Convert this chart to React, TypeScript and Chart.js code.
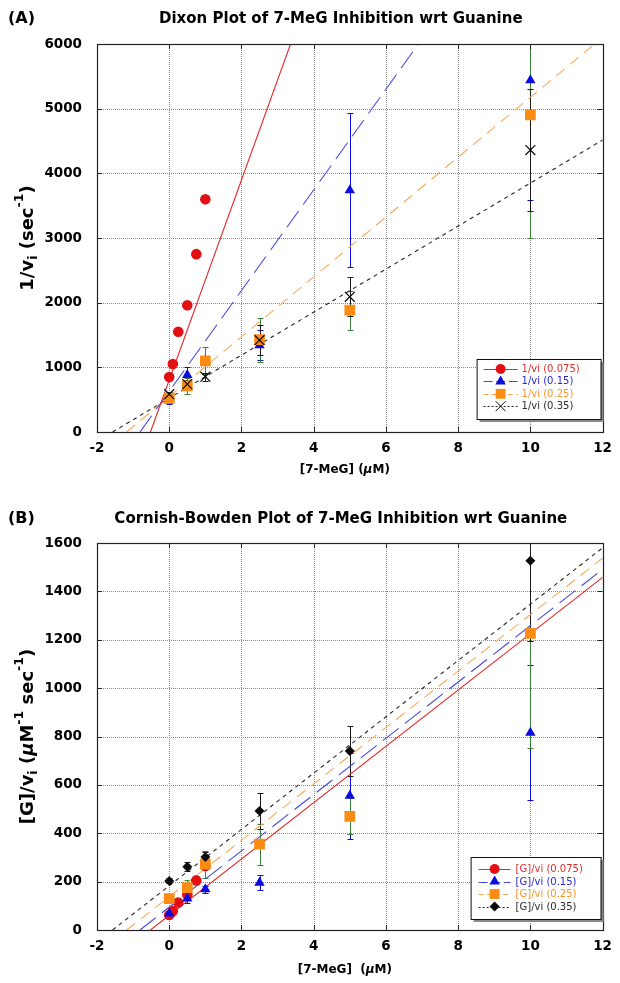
import React, { useEffect, useRef } from 'react';
import { Chart, registerables } from 'chart.js';

Chart.register(...registerables);

const FONT = "'DejaVu Sans', 'Liberation Sans', Arial, sans-serif";

// ---- shared x axis ----
const xMin = -2;
const xMax = 12;
const xStep = 2;

// ---- concentrations [7-MeG] (uM) ----
const concRedX = [0, 0.1, 0.25, 0.5, 0.75, 1];
const concX = [0, 0.5, 1, 2.5, 5, 10];

// ---- (A) Dixon plot: 1/vi ----
const dixonYMax = 6000;
const dixonYStep = 1000;
const dixonRed = [850, 1050, 1550, 1960, 2750, 3600];
const dixonBlue = [490, 880, 1100, 1340, 3740, 5440];
const dixonBlueErr = [60, 130, 60, 230, 1190, 1860];
const dixonOrange = [520, 715, 1100, 1430, 1885, 4905];
const dixonOrangeErr = [70, 120, 210, 340, 300, 1900];
const dixonBlack = [585, 740, 855, 1420, 2090, 4360];
const dixonBlackErr = [40, 60, 60, 230, 300, 950];
// fitted lines (end points)
const dixonFitRedX = [-0.52, 3.36];
const dixonFitRedY = [0, 6000];
const dixonFitBlueX = [-0.81, 6.9];
const dixonFitBlueY = [0, 6000];
const dixonFitOrangeX = [-1.18, 11.78];
const dixonFitOrangeY = [0, 6000];
const dixonFitBlackX = [-1.57, 12];
const dixonFitBlackY = [0, 4515];
const dixonLabels = ['1/vi (0.075)', '1/vi (0.15)', '1/vi (0.25)', '1/vi (0.35)'];

// ---- (B) Cornish-Bowden plot: [G]/vi ----
const cbYMax = 1600;
const cbYStep = 200;
const cbRed = [62, 78, 114, 147, 205, 265];
const cbBlue = [68, 130, 168, 195, 555, 815];
const cbBlueErr = [8, 20, 15, 31, 178, 279];
const cbOrange = [130, 175, 272, 355, 470, 1226];
const cbOrangeErr = [18, 30, 55, 85, 75, 475];
const cbBlack = [203, 262, 302, 492, 740, 1527];
const cbBlackErr = [10, 20, 20, 75, 105, 332];
const cbFitRedX = [-0.52, 12];
const cbFitRedY = [0, 1458];
const cbFitBlueX = [-0.81, 12];
const cbFitBlueY = [0, 1491];
const cbFitOrangeX = [-1.18, 12];
const cbFitOrangeY = [0, 1537];
const cbFitBlackX = [-1.57, 12];
const cbFitBlackY = [0, 1580];
const cbLabels = ['[G]/vi (0.075)', '[G]/vi (0.15)', '[G]/vi (0.25)', '[G]/vi (0.35)'];

// ---- styles ----
const RED = 'rgb(226,16,20)';
const BLUE = 'rgb(10,10,225)';
const ORANGE = 'rgb(250,140,20)';
const BLACK = 'rgb(10,10,10)';
const GREEN = 'rgb(60,130,60)';

type Part = { t: string; size: number; dy?: number; italic?: boolean; bold?: boolean };

function drawRich(ctx: CanvasRenderingContext2D, parts: Part[], cx: number, cy: number, rotate: boolean) {
  ctx.save();
  ctx.translate(cx, cy);
  if (rotate) ctx.rotate(-Math.PI / 2);
  ctx.textBaseline = 'middle';
  ctx.textAlign = 'left';
  ctx.fillStyle = '#000';
  const fontOf = (p: Part) => `${p.italic ? 'italic ' : ''}${p.bold === false ? '' : 'bold '}${p.size}px ${FONT}`;
  let total = 0;
  parts.forEach((p) => {
    ctx.font = fontOf(p);
    total += ctx.measureText(p.t).width;
  });
  let x = -total / 2;
  parts.forEach((p) => {
    ctx.font = fontOf(p);
    ctx.fillText(p.t, x, p.dy || 0);
    x += ctx.measureText(p.t).width;
  });
  ctx.restore();
}

function drawShape(ctx: CanvasRenderingContext2D, style: string, x: number, y: number, r: number, color: string) {
  ctx.save();
  ctx.setLineDash([]);
  ctx.fillStyle = color;
  ctx.strokeStyle = color;
  ctx.beginPath();
  if (style === 'circle') {
    ctx.arc(x, y, r, 0, Math.PI * 2);
    ctx.fill();
  } else if (style === 'triangle') {
    ctx.moveTo(x, y - r);
    ctx.lineTo(x + r * 0.866, y + r * 0.5);
    ctx.lineTo(x - r * 0.866, y + r * 0.5);
    ctx.closePath();
    ctx.fill();
  } else if (style === 'rect') {
    const s = r * 0.707;
    ctx.rect(x - s, y - s, 2 * s, 2 * s);
    ctx.fill();
  } else if (style === 'rectRot') {
    ctx.moveTo(x, y - r);
    ctx.lineTo(x + r, y);
    ctx.lineTo(x, y + r);
    ctx.lineTo(x - r, y);
    ctx.closePath();
    ctx.fill();
  } else if (style === 'crossRot') {
    const d = r * 0.707;
    ctx.lineWidth = 1;
    ctx.moveTo(x - d, y - d);
    ctx.lineTo(x + d, y + d);
    ctx.moveTo(x + d, y - d);
    ctx.lineTo(x - d, y + d);
    ctx.stroke();
  }
  ctx.restore();
}

type Series = {
  label: string;
  xs: number[];
  ys: number[];
  errs?: number[];
  color: string;
  lineColor: string;
  textColor: string;
  errColor: string;
  pointStyle: string;
  radius: number;
  legendRadius: number;
  dash: number[];
  fitX: number[];
  fitY: number[];
};

type PanelCfg = {
  series: Series[];
  yMax: number;
  yStep: number;
  height: number;
  padTop: number;
  xAxisH: number;
  panel: string;
  title: string;
  titleY: number;
  yTitle: Part[];
  xTitle: Part[];
  xTitleY: number;
  legend: { left: number; top: number; w: number; h: number; rowY: number; rowH: number; x0: number; x1: number; tx: number };
};

function buildChart(canvas: HTMLCanvasElement, p: PanelCfg) {
  const datasets: any[] = [];
  p.series.forEach((s, i) => {
    datasets.push({
      label: s.label + ' fit',
      data: s.fitX.map((x, j) => ({ x, y: s.fitY[j] })),
      showLine: true,
      borderColor: s.lineColor,
      borderWidth: 1.1,
      borderDash: s.dash,
      pointRadius: 0,
      pointHoverRadius: 0,
      pointHitRadius: 0,
      fill: false,
      order: 10 + i,
    });
  });
  p.series.forEach((s, i) => {
    datasets.push({
      label: s.label,
      data: s.xs.map((x, j) => ({ x, y: s.ys[j] })),
      showLine: false,
      pointStyle: s.pointStyle,
      pointRadius: s.radius,
      pointHoverRadius: s.radius,
      pointBackgroundColor: s.color,
      pointBorderColor: s.color,
      pointBorderWidth: s.pointStyle === 'crossRot' ? 1.2 : 0,
      order: 4 - i,
      errs: s.errs,
      errColor: s.errColor,
    });
  });

  const deco = {
    id: 'deco',
    beforeDatasetsDraw(chart: any) {
      const { ctx, chartArea: ca } = chart;
      const xs = chart.scales.x;
      const ys = chart.scales.y;
      ctx.save();
      ctx.strokeStyle = '#8a8a8a';
      ctx.lineWidth = 1;
      ctx.setLineDash([1, 1]);
      xs.ticks.forEach((t: any) => {
        if (t.value <= xs.min || t.value >= xs.max) return;
        const px = Math.round(xs.getPixelForValue(t.value)) + 0.5;
        ctx.beginPath();
        ctx.moveTo(px, ca.top);
        ctx.lineTo(px, ca.bottom);
        ctx.stroke();
      });
      ys.ticks.forEach((t: any) => {
        if (t.value <= ys.min || t.value >= ys.max) return;
        const py = Math.round(ys.getPixelForValue(t.value)) + 0.5;
        ctx.beginPath();
        ctx.moveTo(ca.left, py);
        ctx.lineTo(ca.right, py);
        ctx.stroke();
      });
      ctx.setLineDash([]);
      ctx.beginPath();
      ctx.rect(ca.left, ca.top, ca.right - ca.left, ca.bottom - ca.top);
      ctx.clip();
      chart.data.datasets.forEach((ds: any) => {
        if (!ds.errs) return;
        ctx.strokeStyle = ds.errColor;
        ctx.lineWidth = 1;
        ds.data.forEach((pt: any, j: number) => {
          const e = ds.errs[j];
          const px = Math.round(xs.getPixelForValue(pt.x)) + 0.5;
          const y1 = Math.round(ys.getPixelForValue(pt.y - e)) + 0.5;
          const y2 = Math.round(ys.getPixelForValue(pt.y + e)) + 0.5;
          ctx.beginPath();
          ctx.moveTo(px, y1);
          ctx.lineTo(px, y2);
          ctx.moveTo(px - 3, y1);
          ctx.lineTo(px + 3, y1);
          ctx.moveTo(px - 3, y2);
          ctx.lineTo(px + 3, y2);
          ctx.stroke();
        });
      });
      ctx.restore();
    },
    afterDraw(chart: any) {
      const { ctx, chartArea: ca } = chart;
      const xs = chart.scales.x;
      const ys = chart.scales.y;
      ctx.save();
      // frame
      ctx.strokeStyle = '#222';
      ctx.lineWidth = 1.2;
      ctx.setLineDash([]);
      ctx.strokeRect(Math.round(ca.left) + 0.5, Math.round(ca.top) + 0.5, Math.round(ca.right - ca.left), Math.round(ca.bottom - ca.top));
      // inward tick marks
      ctx.lineWidth = 1;
      ctx.beginPath();
      xs.ticks.forEach((t: any) => {
        const px = Math.round(xs.getPixelForValue(t.value)) + 0.5;
        ctx.moveTo(px, ca.bottom);
        ctx.lineTo(px, ca.bottom - 5);
        ctx.moveTo(px, ca.top);
        ctx.lineTo(px, ca.top + 5);
      });
      ys.ticks.forEach((t: any) => {
        const py = Math.round(ys.getPixelForValue(t.value)) + 0.5;
        ctx.moveTo(ca.left, py);
        ctx.lineTo(ca.left + 5, py);
        ctx.moveTo(ca.right, py);
        ctx.lineTo(ca.right - 5, py);
      });
      ctx.stroke();

      // legend
      const L = p.legend;
      const lx = ca.right - L.left;
      const ly = ca.bottom - L.top;
      ctx.fillStyle = '#8a8a8a';
      ctx.fillRect(lx + 3, ly + 3, L.w, L.h);
      ctx.fillStyle = '#fff';
      ctx.fillRect(lx, ly, L.w, L.h);
      ctx.strokeStyle = '#111';
      ctx.lineWidth = 1;
      ctx.strokeRect(lx + 0.5, ly + 0.5, L.w, L.h);
      p.series.forEach((s, i) => {
        const ry = ly + L.rowY + i * L.rowH;
        ctx.save();
        ctx.strokeStyle = s.lineColor;
        ctx.lineWidth = 1.1;
        ctx.setLineDash(s.dash.map((d) => Math.max(2, d * 0.45)));
        ctx.beginPath();
        ctx.moveTo(lx + L.x0, Math.round(ry) + 0.5);
        ctx.lineTo(lx + L.x1, Math.round(ry) + 0.5);
        ctx.stroke();
        ctx.restore();
        drawShape(ctx, s.pointStyle, lx + (L.x0 + L.x1) / 2, ry, s.legendRadius, s.color);
        ctx.fillStyle = s.textColor;
        ctx.font = `10px ${FONT}`;
        ctx.textBaseline = 'middle';
        ctx.textAlign = 'left';
        ctx.fillText(s.label, lx + L.tx, ry + 0.5);
      });

      // titles
      ctx.fillStyle = '#000';
      ctx.textBaseline = 'middle';
      ctx.textAlign = 'left';
      ctx.font = `bold 16px ${FONT}`;
      ctx.fillText(p.panel, 8, p.titleY);
      ctx.textAlign = 'center';
      ctx.font = `bold 15px ${FONT}`;
      ctx.fillText(p.title, (ca.left + ca.right) / 2 - 9, p.titleY);
      drawRich(ctx, p.yTitle, 28, (ca.top + ca.bottom) / 2, true);
      drawRich(ctx, p.xTitle, (ca.left + ca.right) / 2 - 5, p.xTitleY, false);
      ctx.restore();
    },
  };

  const tickFont = { family: FONT, size: 13.5, weight: 'bold' as const };
  const plain = (v: any) => `${v}`;
  return new Chart(canvas, {
    type: 'scatter',
    data: { datasets },
    options: {
      responsive: false,
      animation: false,
      devicePixelRatio: 1,
      events: [],
      layout: { padding: { top: p.padTop, right: 16, left: 0, bottom: 0 } },
      plugins: { legend: { display: false }, tooltip: { enabled: false }, title: { display: false } },
      scales: {
        x: {
          type: 'linear',
          min: xMin,
          max: xMax,
          ticks: { stepSize: xStep, autoSkip: false, font: tickFont, color: '#000', padding: 8, maxRotation: 0, callback: plain },
          grid: { display: false, drawTicks: false },
          border: { display: false },
          afterFit: (s: any) => {
            s.height = p.xAxisH;
          },
        },
        y: {
          type: 'linear',
          min: 0,
          max: p.yMax,
          ticks: { stepSize: p.yStep, autoSkip: false, font: tickFont, color: '#000', padding: 15, callback: plain },
          grid: { display: false, drawTicks: false },
          border: { display: false },
          afterFit: (s: any) => {
            s.width = 97;
          },
        },
      },
    },
    plugins: [deco],
  } as any);
}

function makeSeries(labels: string[], data: { xs: number[]; ys: number[]; errs?: number[]; fitX: number[]; fitY: number[] }[], blackStyle: string, blackR: number): Series[] {
  const base = [
    { color: RED, lineColor: 'rgb(228,40,40)', textColor: 'rgb(225,45,45)', errColor: RED, pointStyle: 'circle', radius: 5.3, legendRadius: 5, dash: [] as number[] },
    { color: BLUE, lineColor: 'rgb(70,70,225)', textColor: 'rgb(40,40,215)', errColor: BLUE, pointStyle: 'triangle', radius: 6, legendRadius: 6, dash: [20, 8] },
    { color: ORANGE, lineColor: 'rgb(245,170,90)', textColor: 'rgb(245,150,45)', errColor: GREEN, pointStyle: 'rect', radius: 7.6, legendRadius: 7, dash: [11, 7] },
    { color: BLACK, lineColor: 'rgb(40,40,40)', textColor: 'rgb(45,45,45)', errColor: '#1a1a1a', pointStyle: blackStyle, radius: blackR, legendRadius: blackR, dash: [4, 4] },
  ];
  return base.map((b, i) => ({ ...b, label: labels[i], ...data[i] }));
}

const dixonSeries = makeSeries(
  dixonLabels,
  [
    { xs: concRedX, ys: dixonRed, fitX: dixonFitRedX, fitY: dixonFitRedY },
    { xs: concX, ys: dixonBlue, errs: dixonBlueErr, fitX: dixonFitBlueX, fitY: dixonFitBlueY },
    { xs: concX, ys: dixonOrange, errs: dixonOrangeErr, fitX: dixonFitOrangeX, fitY: dixonFitOrangeY },
    { xs: concX, ys: dixonBlack, errs: dixonBlackErr, fitX: dixonFitBlackX, fitY: dixonFitBlackY },
  ],
  'crossRot',
  7
);

const cbSeries = makeSeries(
  cbLabels,
  [
    { xs: concRedX, ys: cbRed, fitX: cbFitRedX, fitY: cbFitRedY },
    { xs: concX, ys: cbBlue, errs: cbBlueErr, fitX: cbFitBlueX, fitY: cbFitBlueY },
    { xs: concX, ys: cbOrange, errs: cbOrangeErr, fitX: cbFitOrangeX, fitY: cbFitOrangeY },
    { xs: concX, ys: cbBlack, errs: cbBlackErr, fitX: cbFitBlackX, fitY: cbFitBlackY },
  ],
  'rectRot',
  5
);

const dixonCfg: PanelCfg = {
  series: dixonSeries,
  yMax: dixonYMax,
  yStep: dixonYStep,
  height: 490,
  padTop: 44,
  xAxisH: 58,
  panel: '(A)',
  title: 'Dixon Plot of 7-MeG Inhibition wrt Guanine',
  titleY: 19,
  yTitle: [
    { t: '1/v', size: 18 },
    { t: 'i', size: 12.5, dy: 6 },
    { t: ' (sec', size: 18 },
    { t: '-1', size: 12.5, dy: -8 },
    { t: ')', size: 18 },
  ],
  xTitle: [
    { t: '[7-MeG] (', size: 12 },
    { t: 'μ', size: 12, italic: true },
    { t: 'M)', size: 12 },
  ],
  xTitleY: 470,
  legend: { left: 126, top: 73, w: 124, h: 60, rowY: 10, rowH: 12.4, x0: 7, x1: 41, tx: 45 },
};

const cbCfg: PanelCfg = {
  series: cbSeries,
  yMax: cbYMax,
  yStep: cbYStep,
  height: 493,
  padTop: 53,
  xAxisH: 53,
  panel: '(B)',
  title: 'Cornish-Bowden Plot of 7-MeG Inhibition wrt Guanine',
  titleY: 29,
  yTitle: [
    { t: '[G]/v', size: 18 },
    { t: 'i', size: 12.5, dy: 6 },
    { t: ' (', size: 18 },
    { t: 'μ', size: 18, italic: true },
    { t: 'M', size: 18 },
    { t: '-1', size: 12.5, dy: -8 },
    { t: ' sec', size: 18 },
    { t: '-1', size: 12.5, dy: -8 },
    { t: ')', size: 18 },
  ],
  xTitle: [
    { t: '[7-MeG]  (', size: 12 },
    { t: 'μ', size: 12, italic: true },
    { t: 'M)', size: 12 },
  ],
  xTitleY: 480,
  legend: { left: 132, top: 73, w: 130, h: 62, rowY: 12, rowH: 12.5, x0: 8, x1: 40, tx: 45 },
};

function ChartCanvas({ cfg, top }: { cfg: PanelCfg; top: number }) {
  const ref = useRef<HTMLCanvasElement>(null);
  useEffect(() => {
    const chart = buildChart(ref.current as HTMLCanvasElement, cfg);
    return () => chart.destroy();
  }, [cfg]);
  return (
    <canvas
      ref={ref}
      width={620}
      height={cfg.height}
      style={{ position: 'absolute', left: 0, top, width: 620, height: cfg.height, display: 'block' }}
    />
  );
}

export default function App() {
  return (
    <div style={{ position: 'absolute', left: 0, top: 0, width: 620, height: 983, background: '#fff', overflow: 'hidden' }}>
      <ChartCanvas cfg={dixonCfg} top={0} />
      <ChartCanvas cfg={cbCfg} top={490} />
    </div>
  );
}
